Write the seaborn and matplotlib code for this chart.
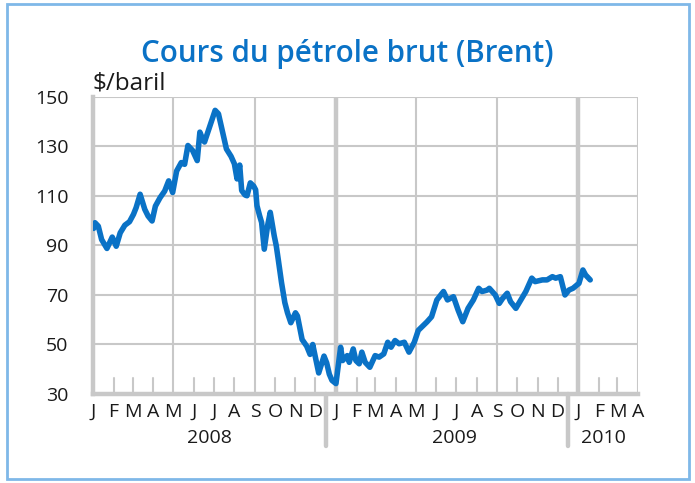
import pandas as pd
import matplotlib
matplotlib.use('Agg')
import matplotlib.pyplot as plt
import matplotlib.dates as mdates
from matplotlib.patches import Rectangle
import seaborn as sns

sns.set_style('white')
plt.rcParams['font.family'] = ['Open Sans', 'DejaVu Sans']

# Brent price ($/baril)
dates = [
    '2008-01-02', '2008-01-04', '2008-01-09', '2008-01-14', '2008-01-22', '2008-01-30',
    '2008-02-05', '2008-02-11', '2008-02-18', '2008-02-25', '2008-03-02', '2008-03-06',
    '2008-03-12', '2008-03-19', '2008-03-24', '2008-03-30', '2008-04-04', '2008-04-11',
    '2008-04-18', '2008-04-24', '2008-04-30', '2008-05-06', '2008-05-13', '2008-05-18',
    '2008-05-23', '2008-05-30', '2008-06-06', '2008-06-10', '2008-06-14', '2008-06-17',
    '2008-06-22', '2008-06-27', '2008-07-03', '2008-07-08', '2008-07-13', '2008-07-20',
    '2008-07-27', '2008-08-01', '2008-08-05', '2008-08-09', '2008-08-12', '2008-08-17',
    '2008-08-20', '2008-08-25', '2008-08-30', '2008-09-02', '2008-09-04', '2008-09-08',
    '2008-09-11', '2008-09-15', '2008-09-20', '2008-09-24', '2008-09-30', '2008-10-03',
    '2008-10-06', '2008-10-11', '2008-10-16', '2008-10-20', '2008-10-25', '2008-11-01',
    '2008-11-04', '2008-11-11', '2008-11-18', '2008-11-23', '2008-11-27', '2008-12-06',
    '2008-12-14', '2008-12-18', '2008-12-22', '2008-12-26', '2009-01-01', '2009-01-08',
    '2009-01-11', '2009-01-18', '2009-01-21', '2009-01-27', '2009-01-31', '2009-02-05',
    '2009-02-09', '2009-02-14', '2009-02-21', '2009-03-01', '2009-03-07', '2009-03-14',
    '2009-03-20', '2009-03-25', '2009-03-31', '2009-04-06', '2009-04-14', '2009-04-21',
    '2009-04-29', '2009-05-05', '2009-05-10', '2009-05-18', '2009-05-25', '2009-06-02',
    '2009-06-12', '2009-06-18', '2009-06-27', '2009-07-04', '2009-07-11', '2009-07-19',
    '2009-07-27', '2009-08-04', '2009-08-09', '2009-08-17', '2009-08-20', '2009-08-29',
    '2009-09-04', '2009-09-09', '2009-09-16', '2009-09-21', '2009-09-29', '2009-10-05',
    '2009-10-14', '2009-10-23', '2009-10-28', '2009-11-08', '2009-11-15', '2009-11-23',
    '2009-11-28', '2009-12-05', '2009-12-12', '2009-12-18', '2009-12-24', '2010-01-02',
    '2010-01-08', '2010-01-12', '2010-01-19',
]
prices = [
    96.9, 99.2, 97.8, 92.4, 88.8, 93.4,
    89.7, 95.1, 98.2, 99.6, 102.6, 105.3,
    110.7, 104.6, 101.9, 99.9, 105.9, 109.3,
    112.0, 116.1, 111.4, 120.1, 123.5, 122.8,
    130.4, 128.4, 124.3, 135.8, 133.1, 131.8,
    135.8, 139.9, 144.6, 143.2, 137.2, 129.0,
    126.0, 123.0, 116.9, 122.5, 112.2, 110.4,
    110.1, 115.3, 114.0, 112.5, 106.1, 102.0,
    99.3, 88.5, 98.0, 103.4, 93.9, 90.0,
    84.5, 75.0, 66.9, 62.8, 58.8, 62.8,
    61.5, 52.0, 49.3, 46.0, 50.0, 38.5,
    45.3, 42.6, 38.0, 35.5, 34.2, 48.9,
    43.5, 45.5, 42.8, 48.2, 43.5, 42.2,
    46.9, 42.8, 40.8, 45.5, 44.9, 46.2,
    50.9, 48.9, 51.6, 50.3, 50.9, 46.9,
    50.9, 55.7, 57.0, 59.1, 61.2, 68.0,
    71.4, 68.0, 69.3, 63.9, 59.2, 64.6,
    68.0, 72.7, 71.4, 72.0, 72.7, 70.0,
    66.6, 68.6, 70.7, 67.3, 64.6, 67.3,
    71.4, 76.8, 75.4, 76.1, 76.1, 77.4,
    76.8, 77.4, 70.0, 72.0, 72.7, 74.7,
    80.1, 78.1, 76.1,
]

month_letters = ['J', 'F', 'M', 'A', 'M', 'J', 'J', 'A', 'S', 'O', 'N', 'D']
years = ['2008', '2009', '2010']
y_ticks = [30, 50, 70, 90, 110, 130, 150]

df = pd.DataFrame({'date': pd.to_datetime(dates), 'price': prices})

fig = plt.figure(figsize=(6.95, 4.83), dpi=100)
ax = fig.add_axes([0.1338, 0.1843, 0.9180 - 0.1338, 0.7992 - 0.1843])

grid_c = '#c8c8c8'
blue = '#0a72c6'
txt_c = '#1a1a1a'

x0 = pd.Timestamp('2008-01-01')
x1 = pd.Timestamp('2010-04-01')
months = pd.date_range(x0, x1, freq='MS')

# horizontal grid
for v in y_ticks[1:]:
    ax.axhline(v, color=grid_c, lw=1.5, zorder=1)
# vertical grid every four months (thicker at year starts), short ticks otherwise
for d in months:
    if d.month in (1, 5, 9) or d == x1:
        lw = 3.2 if (d.month == 1 and d != x0) else 1.5
        ax.axvline(d, color=grid_c, lw=lw, zorder=1)
    else:
        ax.axvline(d, ymin=0, ymax=0.055, color=grid_c, lw=1.5, zorder=1)

sns.lineplot(data=df, x='date', y='price', ax=ax, color=blue, lw=4.0,
             zorder=3, legend=False)

ax.set_xlim(x0, x1)
ax.set_ylim(30, 150)
ax.set_yticks(y_ticks)
ax.set_yticklabels([str(v) for v in y_ticks], fontsize=14, color=txt_c)
ax.tick_params(axis='y', length=7.2, width=1.1, color=grid_c, pad=10.5,
               direction='out')

ax.set_xticks(months)
ax.set_xticklabels([month_letters[d.month - 1] for d in months], fontsize=14,
                   color=txt_c)
ax.tick_params(axis='x', length=0, pad=6.5)
ax.set_xlabel('')
ax.set_ylabel('')

for s in ['top', 'right']:
    ax.spines[s].set_visible(False)
ax.spines['left'].set_color(grid_c)
ax.spines['left'].set_linewidth(3.2)
ax.spines['bottom'].set_color(grid_c)
ax.spines['bottom'].set_linewidth(3.2)

# year separators and labels below the axis
for d in ['2008-12-17', '2009-12-17']:
    ax.axvline(pd.Timestamp(d), ymin=-0.175, ymax=0, color=grid_c, lw=3.2,
               clip_on=False)
year_pos = ['2008-06-24', '2009-06-28', '2010-02-08']
for yr, d in zip(years, year_pos):
    ax.text(mdates.date2num(pd.Timestamp(d)), -0.165, yr, ha='center',
            va='baseline', fontsize=14, color=txt_c,
            transform=ax.get_xaxis_transform())

fig.text(0.4993, 1 - 62 / 483, 'Cours du pétrole brut (Brent)', ha='center',
         va='baseline', fontsize=21.3, fontweight='semibold', color=blue)
fig.text(0.1338, 1 - 89.5 / 483, '$/baril', ha='left', va='baseline',
         fontsize=17.5, color=txt_c)

fig.patches.append(Rectangle((7 / 695, 4 / 483), 682 / 695, 475 / 483,
                             transform=fig.transFigure, fill=False,
                             edgecolor='#7fb8e8', lw=2))

fig.savefig('out.png', dpi=100)
